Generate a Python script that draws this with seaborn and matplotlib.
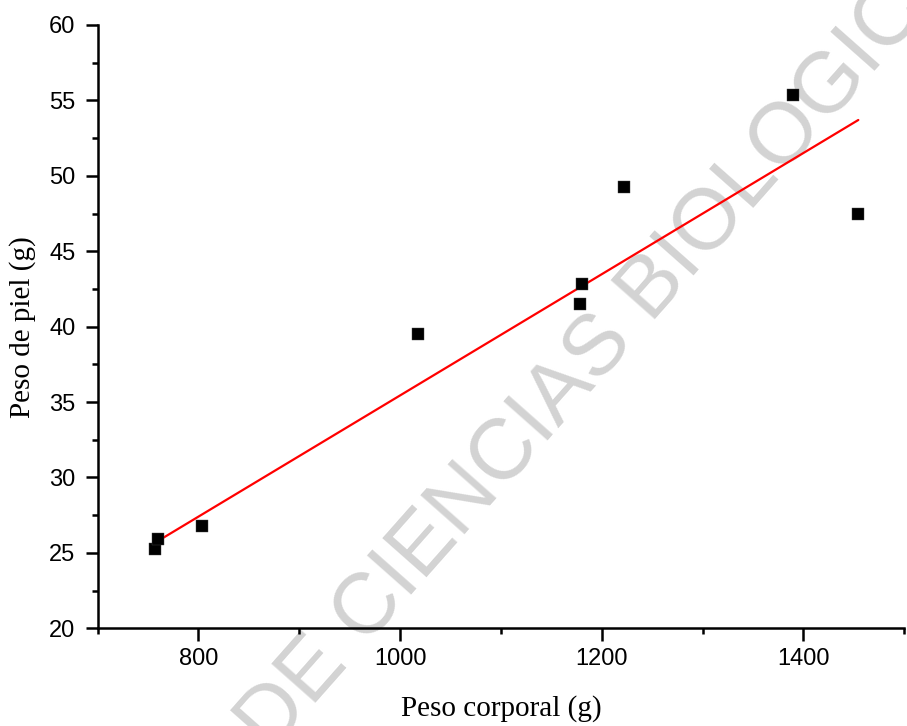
import numpy as np
import pandas as pd
import matplotlib
matplotlib.use("Agg")
import matplotlib.pyplot as plt
import seaborn as sns
from matplotlib.ticker import MultipleLocator

# data
peso_corporal = [757.0, 759.7, 803.9, 1018.2, 1178.5, 1180.8, 1222.5, 1390.1, 1454.5]
peso_piel = [25.25, 25.90, 26.78, 39.49, 41.48, 42.81, 49.24, 55.36, 47.47]

# fitted line (ends)
fit_x = [757.0, 1454.5]
fit_y = [25.67, 53.70]

df = pd.DataFrame({"corporal": peso_corporal, "piel": peso_piel})
fit = pd.DataFrame({"x": fit_x, "y": fit_y})

sns.set_style("ticks")
plt.rcParams['font.family'] = ['Liberation Sans', 'DejaVu Sans']
plt.rcParams['text.color'] = 'black'
plt.rcParams['axes.labelcolor'] = 'black'
plt.rcParams['xtick.color'] = 'black'
plt.rcParams['ytick.color'] = 'black'
plt.rcParams['axes.edgecolor'] = 'black'

fig = plt.figure(figsize=(9.07, 7.26), dpi=100)
ax = fig.add_axes([0.1075, 0.1346, 0.8894, 0.8310])

# watermark behind the data
ax.text(0.684, 0.552, "DE CIENCIAS BIOLOGICAS", transform=fig.transFigure,
        rotation=48.5, rotation_mode='anchor', ha='center', va='center',
        fontsize=62, color='#d3d3d3', family='Liberation Sans',
        clip_on=False, zorder=0.5)

sns.lineplot(data=fit, x="x", y="y", color='red', linewidth=1.6, ax=ax, zorder=2)
sns.scatterplot(data=df, x="corporal", y="piel", marker='s', s=80, color='black',
                edgecolor='#444444', linewidth=0.3, ax=ax, zorder=3)

ax.set_xlim(700, 1500)
ax.set_ylim(20, 60)
ax.xaxis.set_major_locator(MultipleLocator(200))
ax.xaxis.set_minor_locator(MultipleLocator(100))
ax.yaxis.set_major_locator(MultipleLocator(5))
ax.yaxis.set_minor_locator(MultipleLocator(2.5))
ax.set_xticks([800, 1000, 1200, 1400])

ax.spines['top'].set_visible(False)
ax.spines['right'].set_visible(False)
ax.spines['left'].set_linewidth(1.8)
ax.spines['bottom'].set_linewidth(1.8)
ax.tick_params(which='major', direction='out', length=9, width=1.8,
               labelsize=17, pad=5, colors='black')
ax.tick_params(which='minor', direction='out', length=4.5, width=1.8, colors='black')
ax.tick_params(axis='y', pad=7)

ax.set_xlabel("Peso corporal (g)", family='Liberation Serif', fontsize=21,
              labelpad=18, color='black')
ax.set_ylabel("Peso de piel (g)", family='Liberation Serif', fontsize=21,
              labelpad=9, color='black')

fig.savefig("out.png", dpi=100)
